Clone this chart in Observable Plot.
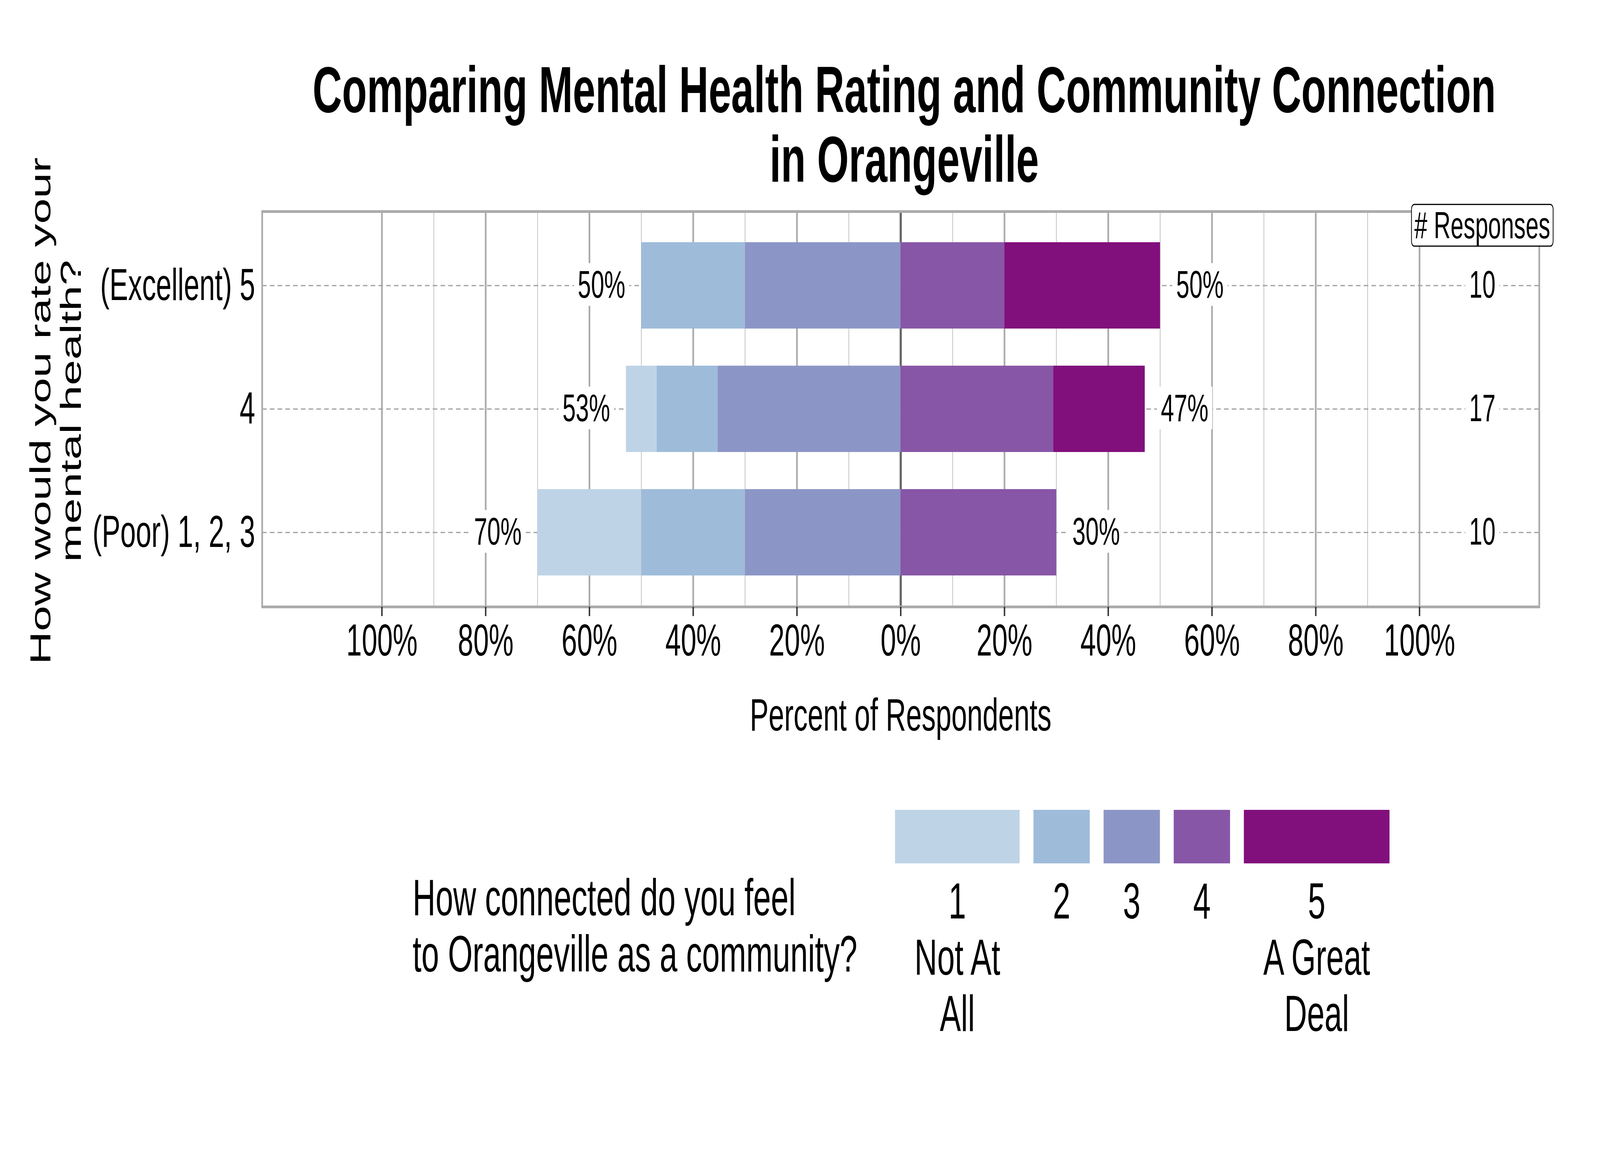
<!DOCTYPE html>
<html>
<head>
<meta charset="utf-8">
<script src="https://cdn.jsdelivr.net/npm/d3@7"></script>
<script src="https://cdn.jsdelivr.net/npm/@observablehq/plot@0.6"></script>
<style>
  html, body { margin: 0; padding: 0; background: #ffffff; overflow: hidden; }
  #root { position: absolute; left: 0; top: 0; width: 6600px; height: 3000px; background: #ffffff; overflow: hidden;
          font-family: "Liberation Sans", Arial, Helvetica, sans-serif; color: #000; transform-origin: 0 0; }
  #root > svg { position: absolute; left: 0; top: 0; }
</style>
</head>
<body>
<div id="root"></div>
<script>
// ---------------- data ----------------
const categories = ["(Excellent) 5", "4", "(Poor) 1, 2, 3"];
const levels = ["1", "2", "3", "4", "5"];
const levelLabels = [["1", "Not At", "All"], ["2"], ["3"], ["4"], ["5", "A Great", "Deal"]];
const colors = ["#BFD3E6", "#9EBCDA", "#8C96C6", "#8856A7", "#810F7C"];
// counts of answers 1..5 for each mental-health row
const countsExcellent = [0, 2, 3, 2, 3];
const countsFour = [1, 2, 6, 5, 3];
const countsPoor = [2, 2, 3, 3, 0];
const responses = [10, 17, 10];
const majorTicks = [-1, -0.8, -0.6, -0.4, -0.2, 0, 0.2, 0.4, 0.6, 0.8, 1];
const minorTicks = [-0.9, -0.7, -0.5, -0.3, -0.1, 0.1, 0.3, 0.5, 0.7, 0.9];
const titleLines = ["Comparing Mental Health Rating and Community Connection", "in Orangeville"];
const yTitleLines = ["How would you rate your", "mental health?"];
const xTitle = "Percent of Respondents";
const legendTitleLines = ["How connected do you feel", "to Orangeville as a community?"];
const responsesHeader = "# Responses";

// ---------------- derived tables ----------------
const countsByRow = [countsExcellent, countsFour, countsPoor];
const segments = [];
const leftLabels = [];
const rightLabels = [];
categories.forEach((row, r) => {
  const c = countsByRow[r];
  const n = d3.sum(c);
  const p = c.map(v => v / n);
  let acc = 0;
  [2, 1, 0].forEach(k => { segments.push({row, level: levels[k], x1: -(acc + p[k]), x2: -acc}); acc += p[k]; });
  leftLabels.push({row, x: -acc, text: Math.round(acc * 100) + "%"});
  acc = 0;
  [3, 4].forEach(k => { segments.push({row, level: levels[k], x1: acc, x2: acc + p[k]}); acc += p[k]; });
  rightLabels.push({row, x: acc, text: Math.round(acc * 100) + "%"});
});
const responseRows = categories.map((row, i) => ({row, n: String(responses[i])}));

// ---------------- layout ----------------
const W = 6600, H = 3000, PLOT_H = 2000;
const panel = {left: 1081, right: 6349, top: 541, bottom: 1553};
const xLim = 1.2308;
const respX = 1.121;
const FONT = "'Liberation Sans', Arial, Helvetica, sans-serif";
const LABEL_FILL = "#010101", HEADER_FILL = "#020202";

const root = document.getElementById("root");
// the chart is laid out on a 6600x3000 canvas; fill the actual window with it
function fit() {
  const sx = window.innerWidth / W, sy = window.innerHeight / H;
  root.style.transform = (Math.abs(sx - 1) < 0.001 && Math.abs(sy - 1) < 0.001) ? "none" : `scale(${sx}, ${sy})`;
}
fit();
window.addEventListener("resize", fit);

const plot = Plot.plot({
  width: W,
  height: PLOT_H,
  marginLeft: panel.left,
  marginRight: W - panel.right,
  marginTop: panel.top,
  marginBottom: PLOT_H - panel.bottom,
  style: {fontFamily: FONT, background: "transparent", overflow: "visible", maxWidth: "none", color: "#000"},
  x: {domain: [-xLim, xLim], label: null},
  y: {type: "band", domain: categories, paddingInner: 0.3, paddingOuter: 0.25, label: null},
  color: {domain: levels, range: colors},
  marks: [
    Plot.ruleX(minorTicks, {stroke: "#B5B5B5", strokeWidth: 2.5}),
    Plot.ruleX(majorTicks.filter(d => d !== 0), {stroke: "#ABABAB", strokeWidth: 7}),
    Plot.ruleX([0], {stroke: "#666666", strokeWidth: 9}),
    Plot.ruleY(categories, {stroke: "#9E9E9E", strokeWidth: 3, strokeDasharray: "19,13"}),
    Plot.barX(segments, {y: "row", x1: "x1", x2: "x2", fill: "level"}),
    Plot.frame({stroke: "#ABABAB", strokeWidth: 7}),
    Plot.axisX({ticks: majorTicks, tickFormat: d => Math.round(Math.abs(d) * 100) + "%",
                tickSize: 24, tickPadding: 19, fontSize: 115, stroke: "#333333", strokeWidth: 6, label: null}),
    Plot.axisY({tickSize: 0, tickPadding: 29, fontSize: 115, label: null}),
    Plot.text(leftLabels, {x: "x", y: "row", text: "text", textAnchor: "end", dx: -66, fontSize: 98, fill: LABEL_FILL}),
    Plot.text(rightLabels, {x: "x", y: "row", text: "text", textAnchor: "start", dx: 66, fontSize: 98, fill: LABEL_FILL}),
    Plot.text(responseRows, {x: () => respX, y: "row", text: "n", fontSize: 98, fill: LABEL_FILL}),
    Plot.text([responsesHeader], {x: () => respX, frameAnchor: "top", text: d => d, fontSize: 96, fill: HEADER_FILL})
  ]
});
root.appendChild(plot);

// white label boxes behind text labels (geom_label look)
function boxLabels(fill, padX, padY, stroke) {
  plot.querySelectorAll(`g[fill="${fill}"] text`).forEach(t => {
    const b = t.getBBox();
    const r = document.createElementNS("http://www.w3.org/2000/svg", "rect");
    r.setAttribute("x", b.x - padX);
    r.setAttribute("y", b.y - padY);
    r.setAttribute("width", b.width + 2 * padX);
    r.setAttribute("height", b.height + 2 * padY);
    r.setAttribute("fill", "#ffffff");
    if (stroke) {
      r.setAttribute("stroke", stroke);
      r.setAttribute("stroke-width", 3);
      r.setAttribute("rx", 12);
    }
    const tr = t.getAttribute("transform");
    if (tr) r.setAttribute("transform", tr);
    t.parentNode.insertBefore(r, t);
  });
}
boxLabels(LABEL_FILL, 16, 0, null);
boxLabels(HEADER_FILL, 12, 0, "#000000");

// ---------------- titles & legend overlay ----------------
const svg = d3.select(root).append("svg")
  .attr("width", W).attr("height", H)
  .style("pointer-events", "none")
  .style("font-family", FONT);

const panelCx = (panel.left + panel.right) / 2;
const panelCy = (panel.top + panel.bottom) / 2;

svg.selectAll("text.title").data(titleLines).join("text")
  .attr("class", "title")
  .attr("x", panelCx + 15).attr("y", (d, i) => 287 + i * 178)
  .attr("text-anchor", "middle").attr("font-weight", "bold").attr("font-size", 168)
  .text(d => d);

svg.selectAll("text.ytitle").data(yTitleLines).join("text")
  .attr("class", "ytitle")
  .attr("transform", (d, i) => `translate(${208 + i * 125},${panelCy + 5}) rotate(-90)`)
  .attr("text-anchor", "middle").attr("font-size", 118)
  .text(d => d);

svg.append("text")
  .attr("x", panelCx).attr("y", 1870)
  .attr("text-anchor", "middle").attr("font-size", 116)
  .text(xTitle);

// legend title
svg.selectAll("text.ltitle").data(legendTitleLines).join("text")
  .attr("class", "ltitle")
  .attr("x", 1702).attr("y", (d, i) => 2343 + i * 144)
  .attr("font-size", 131)
  .text(d => d);

// legend keys: width grows with the label width
const legendG = svg.append("g");
const keyTop = 2073, keyH = 137, keyGap = 57, keyMin = 226, keyPad = 160;
const labelG = levels.map((lv, k) => {
  const g = legendG.append("g");
  levelLabels[k].forEach((line, j) => {
    g.append("text").attr("y", 2351 + j * 144).attr("text-anchor", "middle")
      .attr("font-size", 130).text(line);
  });
  return g;
});
let kx = 3692;
levels.forEach((lv, k) => {
  const widths = labelG[k].selectAll("text").nodes().map(n => n.getComputedTextLength());
  const w = Math.max(keyMin, d3.max(widths) + keyPad);
  legendG.insert("rect", ":first-child")
    .attr("x", kx).attr("y", keyTop).attr("width", w).attr("height", keyH)
    .attr("fill", colors[k]);
  labelG[k].selectAll("text").attr("x", kx + w / 2);
  kx += w + keyGap;
});
</script>
</body>
</html>
